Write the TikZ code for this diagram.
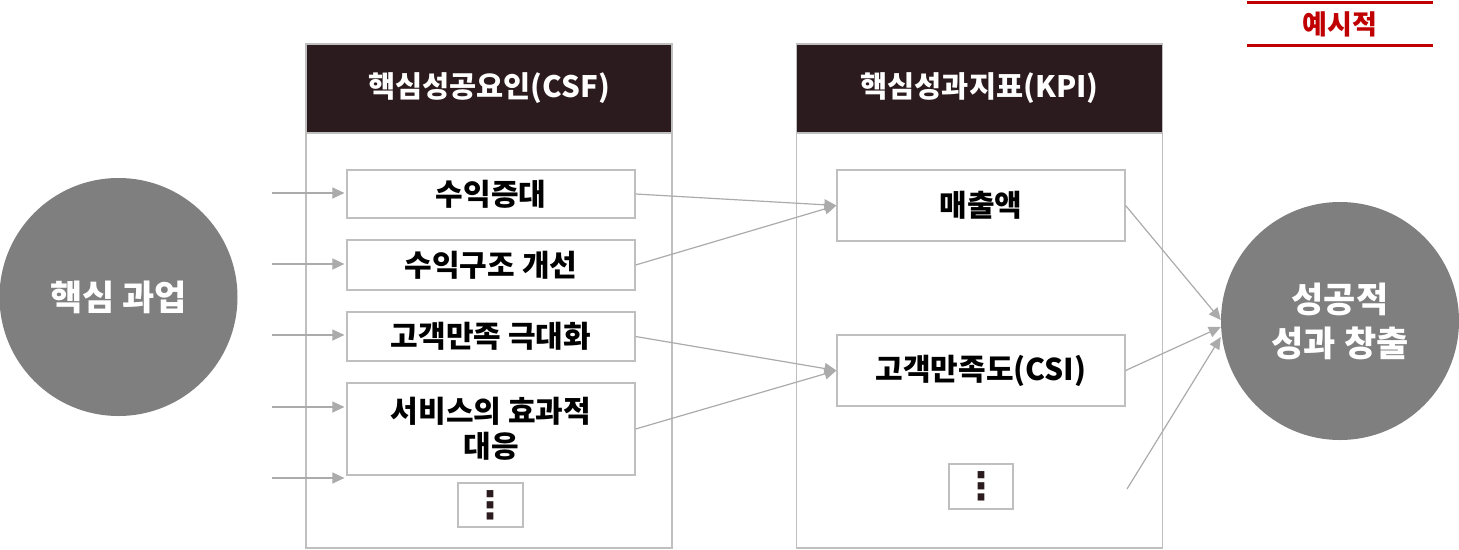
\documentclass[tikz,border=0pt]{standalone}
\usepackage{fontspec}
\setmainfont{Noto Sans CJK KR}
\newfontfamily\dejavu{DejaVu Sans}
\usetikzlibrary{arrows.meta}
\definecolor{hdr}{HTML}{2B1A1E}
\definecolor{bord}{HTML}{BFBFBF}
\definecolor{arr}{HTML}{ABABAB}
\definecolor{circ}{HTML}{7F7F7F}
\definecolor{redl}{HTML}{C00000}
\begin{document}
\begin{tikzpicture}[x=1pt,y=-1pt,font=\bfseries,
 panel/.style={draw=bord,line width=1.2pt,minimum width=366pt,minimum height=504pt,inner sep=0pt},
 header/.style={fill=hdr,draw=bord,line width=1.2pt,minimum width=366pt,minimum height=89pt,inner sep=0pt,text=white,font=\bfseries\fontsize{29.5}{34}\selectfont},
 item/.style={draw=bord,line width=1.2pt,fill=white,minimum width=288pt,inner sep=0pt,align=center,font=\bfseries\fontsize{30}{35}\selectfont},
 dotbox/.style={draw=bord,line width=1.2pt,inner sep=0pt,text=hdr,font=\dejavu\bfseries\fontsize{38}{38}\selectfont},
 bigc/.style={circle,fill=circ,minimum size=238pt,inner sep=0pt,text=white,align=center,font=\bfseries\fontsize{35}{44}\selectfont},
 conn/.style={draw=arr,line width=1.2pt,-{Triangle[length=12pt,width=11pt]},arr},
 tag/.style={text=redl,minimum width=186pt,minimum height=42pt,inner sep=0pt,font=\bfseries\fontsize{27}{30}\selectfont}
]
\useasboundingbox (0,0) rectangle (1459,549);

% panels
\node[panel] (csf) at (489,296) {};
\node[header] (csfh) at (489,88.5) {핵심성공요인(CSF)};
\node[panel] (kpi) at (979.5,296) {};
\node[header] (kpih) at (979.5,88.5) {핵심성과지표(KPI)};

% CSF items
\node[item,minimum height=48pt] (c1) at (491,194) {수익증대};
\node[item,minimum height=50pt] (c2) at (491,265) {수익구조 개선};
\node[item,minimum height=49pt] (c3) at (491,336.5) {고객만족 극대화};
\node[item,minimum height=92pt] (c4) at (491,429) {서비스의 효과적\\대응};
\node[dotbox,minimum width=65pt,minimum height=44pt] (c5) at (490.5,505) {⋮};

% KPI items
\node[item,minimum height=71pt] (k1) at (981,205.5) {매출액};
\node[item,minimum height=71pt] (k2) at (981,370.5) {고객만족도(CSI)};
\node[dotbox,minimum width=64pt,minimum height=45pt] (k3) at (981,486.5) {⋮};

% circles
\node[bigc] (task) at (118.5,297) {핵심 과업};
\node[bigc] (goal) at (1340,321) {성공적\\성과 창출};

% tag
\node[tag] (ex) at (1340,24) {예시적};
\draw[redl,line width=3pt] (ex.north west) -- (ex.north east);
\draw[redl,line width=3pt] (ex.south west) -- (ex.south east);

% left arrows
\foreach \y/\n in {193/1,264/2,335/3,407/4,478/5}{
  \coordinate (l\n) at (272,\y);
}
\draw[conn,shorten >=2pt] (l1) -- (l1 -| c1.west);
\draw[conn,shorten >=2pt] (l2) -- (l2 -| c2.west);
\draw[conn,shorten >=2pt] (l3) -- (l3 -| c3.west);
\draw[conn,shorten >=2pt] (l4) -- (l4 -| c4.west);
\draw[conn,shorten >=2pt] (l5) -- (l5 -| c4.west);

% CSF -> KPI
\draw[conn] (c1.east) -- (k1.west);
\draw[conn] (c2.east) -- (k1.west);
\draw[conn] (c3.east) -- (k2.west);
\draw[conn] (c4.east) -- (k2.west);

% KPI -> goal
\coordinate (k4) at (1127,489);
\draw[conn] (k1.east) -- ([yshift=1pt]goal.west);
\draw[conn] (k2.east) -- ([yshift=-6pt]goal.west);
\draw[conn] (k4) -- ([yshift=-16pt]goal.west);
\end{tikzpicture}
\end{document}
